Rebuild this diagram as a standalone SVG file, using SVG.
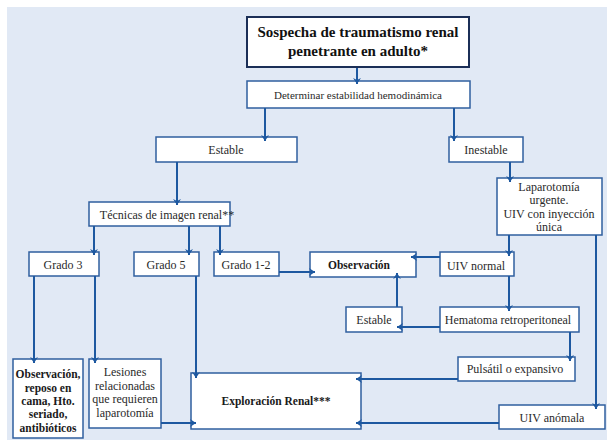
<svg xmlns="http://www.w3.org/2000/svg" width="607" height="440" viewBox="0 0 607 440" font-family="'Liberation Serif', 'DejaVu Serif', 'Noto Serif', serif">
  <defs>
    <marker id="arrow" markerUnits="userSpaceOnUse" markerWidth="10" markerHeight="10" viewBox="-1 -5 10 10" refX="6" refY="0" orient="auto">
      <path d="M0,-4 L6,0 L0,4 L2,0 z" fill="#1d58a0"/>
    </marker>
    <style>
      .box { fill: #ffffff; stroke: #2f5f9f; stroke-width: 1.5; }
      .box-main { fill: #ffffff; stroke: #1b2f57; stroke-width: 2; }
      .t { font-size: 12px; fill: #2a2a2a; text-anchor: middle; }
      .b { font-weight: bold; font-size: 11.5px; fill: #1a1a1a; }
      .title { font-size: 15px; font-weight: bold; fill: #111111; text-anchor: middle; }
      .conn path { fill: none; stroke: #1d58a0; stroke-width: 2; marker-end: url(#arrow); }
    </style>
  </defs>

  <!-- panel background -->
  <rect x="0" y="0" width="607" height="440" fill="#ffffff"/>
  <rect x="7" y="7" width="600" height="433" fill="#e1e9f5"/>

  <g id="sospecha">
    <rect class="box-main" x="247" y="17" width="222" height="50"/>
    <text class="title" x="358" y="37">Sospecha de traumatismo renal</text>
    <text class="title" x="358" y="56">penetrante en adulto*</text>
  </g>

  <g id="determinar">
    <rect class="box" x="247" y="81" width="223" height="27"/>
    <text class="t" x="358" y="99" style="font-size:11px">Determinar estabilidad hemodinámica</text>
  </g>

  <g id="estable">
    <rect class="box" x="156" y="137" width="141" height="25"/>
    <text class="t" x="226" y="154">Estable</text>
  </g>

  <g id="inestable">
    <rect class="box" x="449" y="137" width="74" height="25"/>
    <text class="t" x="486" y="154">Inestable</text>
  </g>

  <g id="tecnicas">
    <rect class="box" x="89" y="202" width="141" height="24"/>
    <text class="t" x="167" y="219">Técnicas de imagen renal**</text>
  </g>

  <g id="grado3">
    <rect class="box" x="29" y="252" width="70" height="24"/>
    <text class="t" x="63" y="269">Grado 3</text>
  </g>

  <g id="grado5">
    <rect class="box" x="134" y="252" width="65" height="24"/>
    <text class="t" x="166" y="269">Grado 5</text>
  </g>

  <g id="grado12">
    <rect class="box" x="214" y="252" width="65" height="24"/>
    <text class="t" x="246" y="269">Grado 1-2</text>
  </g>

  <g id="observacion">
    <rect class="box" x="310" y="252" width="106" height="25"/>
    <text class="t b" x="359" y="269">Observación</text>
  </g>

  <g id="laparotomia">
    <rect class="box" x="497" y="178" width="105" height="57"/>
    <text class="t" x="549" y="191">Laparotomía</text>
    <text class="t" x="549" y="204">urgente.</text>
    <text class="t" x="549" y="218">UIV con inyección</text>
    <text class="t" x="549" y="231">única</text>
  </g>

  <g id="uiv-normal">
    <rect class="box" x="440" y="252" width="74" height="24"/>
    <text class="t" x="476" y="270">UIV normal</text>
  </g>

  <g id="estable-2">
    <rect class="box" x="346" y="307" width="56" height="25"/>
    <text class="t" x="374" y="324">Estable</text>
  </g>

  <g id="hematoma">
    <rect class="box" x="440" y="307" width="139" height="25"/>
    <text class="t" x="508" y="324">Hematoma retroperitoneal</text>
  </g>

  <g id="pulsatil">
    <rect class="box" x="458" y="357" width="117" height="24"/>
    <text class="t" x="515" y="373">Pulsátil o expansivo</text>
  </g>

  <g id="uiv-anomala">
    <rect class="box" x="499" y="405" width="106" height="24"/>
    <text class="t" x="552" y="422">UIV anómala</text>
  </g>

  <g id="exploracion">
    <rect class="box" x="191" y="373" width="170" height="56"/>
    <text class="t b" x="276" y="405">Exploración Renal***</text>
  </g>

  <g id="observacion-reposo">
    <rect class="box" x="13" y="359" width="70" height="79"/>
    <text class="t b" x="48" y="378">Observación,</text>
    <text class="t b" x="48" y="392">reposo en</text>
    <text class="t b" x="48" y="405">cama, Hto.</text>
    <text class="t b" x="48" y="418">seriado,</text>
    <text class="t b" x="48" y="432">antibióticos</text>
  </g>

  <g id="lesiones">
    <rect class="box" x="89" y="359" width="72" height="69"/>
    <text class="t" x="125" y="376">Lesiones</text>
    <text class="t" x="125" y="390">relacionadas</text>
    <text class="t" x="125" y="403">que requieren</text>
    <text class="t" x="125" y="417">laparotomía</text>
  </g>

  <!-- connectors, drawn over the boxes so the arrowheads overlap the edges -->
  <g id="connectors" class="conn">
    <path d="M357,68 V84"/>
    <path d="M265,108 V141"/>
    <path d="M454,108 V141"/>
    <path d="M177,162 V205"/>
    <path d="M94,226 V255"/>
    <path d="M189,226 V255"/>
    <path d="M220,226 V255"/>
    <path d="M279,272 H315"/>
    <path d="M510,162 V182"/>
    <path d="M509,235 V256"/>
    <path d="M440,257 H411"/>
    <path d="M596,235 V409"/>
    <path d="M509,276 V311"/>
    <path d="M440,327 H397"/>
    <path d="M397,307 V273"/>
    <path d="M570,332 V361"/>
    <path d="M458,379 H356"/>
    <path d="M499,423 H356"/>
    <path d="M196,276 V378"/>
    <path d="M34,276 V363"/>
    <path d="M95,276 V363"/>
    <path d="M161,423 H196"/>
  </g>
</svg>
